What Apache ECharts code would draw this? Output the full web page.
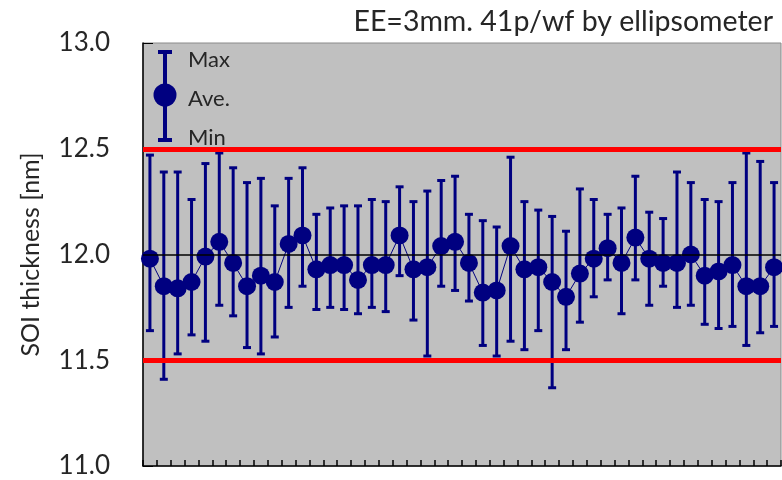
<!DOCTYPE html>
<html>
<head>
<meta charset="utf-8">
<script src="https://cdn.jsdelivr.net/npm/echarts@6/dist/echarts.min.js"></script>
<style>html,body{margin:0;padding:0;background:#fff;}#c{width:782px;height:480px;}</style>
</head>
<body>
<div id="c"></div>
<script>
const categories = Array.from({length: 46}, (_, i) => String(i + 1));
const maxVals = [12.47,12.39,12.39,12.26,12.43,12.48,12.41,12.34,12.36,12.23,12.36,12.41,12.19,12.22,12.23,12.23,12.26,12.25,12.32,12.25,12.30,12.35,12.37,12.19,12.16,12.13,12.46,12.25,12.21,12.18,12.11,12.31,12.26,12.19,12.22,12.37,12.20,12.17,12.39,12.34,12.26,12.25,12.34,12.48,12.44,12.34];
const aveVals = [11.98,11.85,11.84,11.87,11.99,12.06,11.96,11.85,11.90,11.87,12.05,12.09,11.93,11.95,11.95,11.88,11.95,11.95,12.09,11.93,11.94,12.04,12.06,11.96,11.82,11.83,12.04,11.93,11.94,11.87,11.80,11.91,11.98,12.03,11.96,12.08,11.98,11.96,11.96,12.00,11.90,11.92,11.95,11.85,11.85,11.94];
const minVals = [11.64,11.41,11.53,11.62,11.59,11.76,11.71,11.56,11.53,11.61,11.75,11.85,11.74,11.75,11.74,11.72,11.75,11.73,11.90,11.69,11.52,11.85,11.83,11.78,11.57,11.52,11.59,11.55,11.64,11.37,11.55,11.68,11.80,11.88,11.72,11.88,11.76,11.85,11.75,11.76,11.67,11.65,11.66,11.57,11.63,11.66];
const specLimits = [12.5, 11.5];
const targetValue = 12.0;
const yTicks = [11.0, 11.5, 12.0, 12.5, 13.0];

const NAVY = '#000080';
const FONT = 'Lato';
const errData = categories.map((c, i) => [i, minVals[i], maxVals[i]]);

const chart = echarts.init(document.getElementById('c'), null, {renderer: 'canvas'});
chart.setOption({
  animation: false,
  backgroundColor: '#ffffff',
  title: {
    text: 'EE=3mm. 41p/wf by ellipsometer',
    right: 4, top: 2,
    textStyle: {fontFamily: FONT, fontSize: 28.5, fontWeight: 'normal', color: '#262626'}
  },
  grid: {
    left: 143, right: 1, top: 43, bottom: 14,
    show: true, backgroundColor: '#c0c0c0', borderColor: '#8a8a8a', borderWidth: 1
  },
  xAxis: {
    type: 'category', data: categories, boundaryGap: true,
    axisLine: {show: true, lineStyle: {color: '#000', width: 1.5}},
    axisTick: {show: true, inside: true, length: 6, interval: 0, lineStyle: {color: '#000', width: 1.5}},
    axisLabel: {show: false},
    splitLine: {show: false}
  },
  yAxis: {
    type: 'value', min: yTicks[0], max: yTicks[yTicks.length - 1], interval: 0.5,
    name: 'SOI thickness [nm]', nameLocation: 'middle', nameGap: 100,
    nameTextStyle: {fontFamily: FONT, fontSize: 25, color: '#262626'},
    axisLine: {show: true, lineStyle: {color: '#000', width: 1.5}},
    axisTick: {show: true, inside: true, length: 10, lineStyle: {color: '#000'}},
    axisLabel: {fontFamily: FONT, fontSize: 26, color: '#262626', margin: 33, formatter: v => v.toFixed(1)},
    splitLine: {show: false}
  },
  series: [
    {
      type: 'line', data: [], z: 1, silent: true,
      markLine: {
        symbol: 'none', silent: true, label: {show: false},
        lineStyle: {color: '#000', width: 1.5, type: 'solid'},
        data: [{yAxis: targetValue}]
      }
    },
    {
      type: 'custom', z: 3, silent: true,
      data: errData,
      encode: {x: 0, y: [1, 2]},
      renderItem: function (params, api) {
        const x = api.value(0);
        const lo = api.coord([x, api.value(1)]);
        const hi = api.coord([x, api.value(2)]);
        const hw = 4;
        const st = {stroke: NAVY, lineWidth: 3};
        return {
          type: 'group',
          children: [
            {type: 'line', shape: {x1: lo[0], y1: lo[1], x2: hi[0], y2: hi[1]}, style: st},
            {type: 'line', shape: {x1: hi[0] - hw, y1: hi[1], x2: hi[0] + hw, y2: hi[1]}, style: st},
            {type: 'line', shape: {x1: lo[0] - hw, y1: lo[1], x2: lo[0] + hw, y2: lo[1]}, style: st}
          ]
        };
      }
    },
    {
      type: 'line', data: aveVals, z: 4, silent: true,
      symbol: 'circle', symbolSize: 18, showAllSymbol: true,
      itemStyle: {color: NAVY},
      lineStyle: {color: NAVY, width: 1}
    },
    {
      type: 'line', data: [], z: 6, silent: true,
      markLine: {
        symbol: 'none', silent: true, label: {show: false},
        lineStyle: {color: '#ff0000', width: 5, type: 'solid'},
        data: specLimits.map(v => ({yAxis: v}))
      }
    }
  ],
  graphic: [
    {type: 'line', shape: {x1: 165, y1: 52, x2: 165, y2: 140}, style: {stroke: NAVY, lineWidth: 4}, z: 10},
    {type: 'line', shape: {x1: 158, y1: 52, x2: 172, y2: 52}, style: {stroke: NAVY, lineWidth: 4}, z: 10},
    {type: 'line', shape: {x1: 158, y1: 140, x2: 172, y2: 140}, style: {stroke: NAVY, lineWidth: 4}, z: 10},
    {type: 'circle', shape: {cx: 165, cy: 95, r: 11.5}, style: {fill: NAVY}, z: 10},
    {type: 'text', left: 188, top: 49, style: {text: 'Max', fontFamily: FONT, fontSize: 22, fill: '#262626'}, z: 10},
    {type: 'text', left: 188, top: 88, style: {text: 'Ave.', fontFamily: FONT, fontSize: 22, fill: '#262626'}, z: 10},
    {type: 'text', left: 188, top: 127, style: {text: 'Min', fontFamily: FONT, fontSize: 22, fill: '#262626'}, z: 10}
  ]
});
</script>
</body>
</html>
